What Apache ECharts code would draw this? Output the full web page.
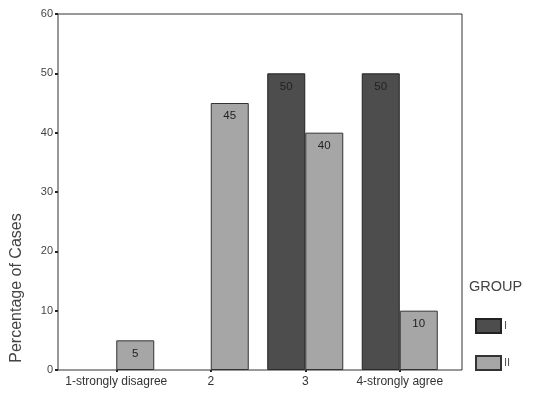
<!DOCTYPE html>
<html><head><meta charset="utf-8">
<script src="https://cdn.jsdelivr.net/npm/echarts@6/dist/echarts.min.js"></script>
<style>html,body{margin:0;padding:0;background:#fff}#c{width:533px;height:397px}</style>
</head><body><div id="c"></div>
<script>
var categories = ['1-strongly disagree', '2', '3', '4-strongly agree'];
var groupI = [null, null, 50, 50];
var groupII = [5, 45, 40, 10];
var seriesNames = ['I', 'II'];
var yTicks = {min: 0, max: 60, interval: 10};

var chart = echarts.init(document.getElementById('c'));
var font = 'Liberation Sans, Arial, sans-serif';
var lbl = {show: true, position: 'insideTop', distance: 7, color: '#222', fontSize: 11.5, fontFamily: font};
chart.setOption({
  animation: false,
  backgroundColor: '#fff',
  title: {text: 'GROUP', left: 469, top: 279, padding: 0, textStyle: {fontSize: 14.5, fontWeight: 'normal', color: '#444', fontFamily: font}},
  legend: {
    orient: 'vertical', left: 475, top: 318, padding: 0, itemWidth: 25, itemHeight: 14, itemGap: 21,
    icon: 'rect',
    textStyle: {fontSize: 11, color: '#555', fontFamily: font, padding: [0, 0, 0, -2]},
    data: seriesNames
  },
  grid: {left: 69, right: 86, top: 14, bottom: 27},
  xAxis: {
    type: 'category', data: categories,
    axisLine: {show: false},
    axisTick: {show: true, alignWithLabel: true, length: 2, lineStyle: {color: '#222', width: 2}},
    axisLabel: {fontSize: 12, color: '#333', fontFamily: font, margin: 6, interval: 0}
  },
  yAxis: {
    type: 'value', min: yTicks.min, max: yTicks.max, interval: yTicks.interval,
    offset: 11,
    axisLine: {show: false},
    axisTick: {show: true, length: 3, lineStyle: {color: '#222', width: 2}},
    splitLine: {show: false},
    axisLabel: {fontSize: 11, color: '#444', fontFamily: font, margin: 5}
  },
  graphic: [
    {type: 'rect', shape: {x: 58, y: 14, width: 404, height: 356}, silent: true, z: 10,
     style: {fill: 'none', stroke: '#333', lineWidth: 1}},
    {type: 'text', x: 17, y: 288, rotation: Math.PI / 2, z: 10,
     style: {text: 'Percentage of Cases', fontSize: 16, fill: '#444', fontFamily: font, textAlign: 'center', textVerticalAlign: 'middle'}}
  ],
  series: [
    {name: 'I', type: 'bar', data: groupI, barWidth: 38, barGap: '0%',
     itemStyle: {color: '#4d4d4d', borderColor: '#222', borderWidth: 1}, label: lbl},
    {name: 'II', type: 'bar', data: groupII, barWidth: 38,
     itemStyle: {color: '#a6a6a6', borderColor: '#333', borderWidth: 1}, label: lbl}
  ]
});
</script></body></html>
